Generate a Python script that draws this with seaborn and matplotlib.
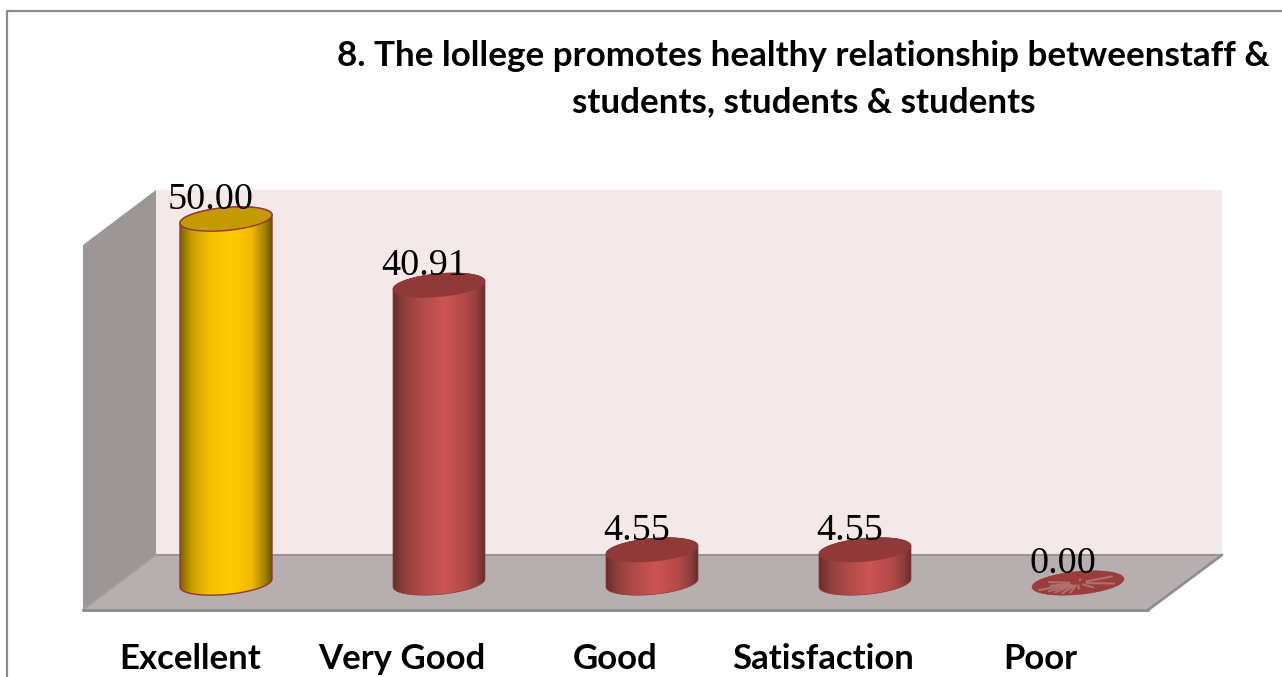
import numpy as np
import seaborn as sns
import matplotlib
matplotlib.use('Agg')
import matplotlib.pyplot as plt
from matplotlib.colors import LinearSegmentedColormap
from matplotlib.patches import Polygon
from matplotlib.transforms import Affine2D

categories = ['Excellent', 'Very Good', 'Good', 'Satisfaction', 'Poor']
values = [50.00, 40.91, 4.55, 4.55, 0.00]
title_text = '8. The lollege promotes healthy relationship betweenstaff &\nstudents, students & students'

W, H = 1282, 677
PX_X = 213.0   # pixels per category
PX_Y = 7.28    # pixels per value unit
LEFT, RIGHT, TOP, BOTTOM = 83, 1148, 190, 610
X0, Y0 = 226, 583  # pixel of the first bar at value 0
label_px = [190, 402, 615, 823, 1040]

sns.set_theme(style='white')
plt.rcParams['font.family'] = ['Lato', 'DejaVu Sans']

fig = plt.figure(figsize=(W / 100, H / 100), dpi=100, facecolor='white')
ax = fig.add_axes([LEFT / W, 1 - BOTTOM / H, (RIGHT - LEFT) / W, (BOTTOM - TOP) / H])
ax.patch.set_alpha(0)

yellow = LinearSegmentedColormap.from_list('y', [(0, '#7d6300'), (0.12, '#c79c00'), (0.3, '#f2bd00'), (0.55, '#ffcc00'),
                                                 (0.78, '#f0ba00'), (0.92, '#a98400'), (1, '#6f5800')])
red = LinearSegmentedColormap.from_list('r', [(0, '#682e2c'), (0.12, '#8f3f3d'), (0.3, '#b04a48'), (0.55, '#cc5552'),
                                              (0.78, '#b34b49'), (0.92, '#8f3f3d'), (1, '#682e2c')])

sns.barplot(x=list(range(len(values))), y=values, native_scale=True, width=92 / PX_X, color='#c0504d', linewidth=0, ax=ax, zorder=3)

px = Affine2D().scale(1, -1).translate(0, H)


def wall(pts, color, edge='none', lw=0):
    ax.add_patch(Polygon(pts, closed=True, fc=color, ec=edge, lw=lw, transform=px, clip_on=False, zorder=0))


wall([(156, 190), (1222, 190), (1222, 555), (156, 555)], '#f4e8e8')
wall([(83, 245), (156, 190), (156, 555), (83, 610)], '#9c9696')
wall([(83, 610), (1148, 610), (1222, 555), (156, 555)], '#b7afaf')
ax.plot([156, 1222], [555, 555], color='#999393', lw=1.5, transform=px, clip_on=False, zorder=1)
ax.plot([83, 156], [610, 555], color='#a3a0a0', lw=1.2, transform=px, clip_on=False, zorder=1)
ax.plot([1148, 1222], [610, 555], color='#8f8f8f', lw=2, transform=px, clip_on=False, zorder=1)
ax.plot([83, 1148], [610, 610], color='#8f8f8f', lw=2.2, transform=px, clip_on=False, zorder=1)

# grey frame, only top and left are in the crop
ax.plot([7, 7, W], [H, 11, 11], color='#8c8c8c', lw=1.6, transform=px, clip_on=False, zorder=1)

t = np.linspace(0, 2 * np.pi, 90)


def rim(cx, val, tt):
    # slanted ellipse of a bar end, half axes given in pixels
    dx = 46 * np.cos(tt) / PX_X
    dy = (4 * np.cos(tt) + 11.5 * np.sin(tt)) / PX_Y
    return cx + dx, val + dy


for i, (bar, val) in enumerate(zip(ax.patches, values)):
    cx = bar.get_x() + bar.get_width() / 2
    cmap = yellow if i == 0 else red
    top_col = '#c49a00' if i == 0 else '#8f3a38'
    edge = '#953735'
    if val > 0:
        bx, by = rim(cx, 0, np.linspace(0, -np.pi, 50))
        tx, ty = rim(cx, val, np.linspace(np.pi, 0, 50))
        body = Polygon(np.column_stack([np.r_[bx, tx], np.r_[by, ty]]), closed=True, fc='none', ec=edge,
                       lw=1 if i == 0 else 0.5, transform=ax.transData, zorder=5)
        ax.add_patch(body)
        im = ax.imshow(np.linspace(0, 1, 200)[None, :], cmap=cmap, aspect='auto', zorder=4,
                       extent=[bar.get_x(), bar.get_x() + bar.get_width(), -3, val + 3])
        im.set_clip_path(body)
        bar.set_clip_path(body)
    ex, ey = rim(cx, val, t)
    ax.fill(ex, ey, fc=top_col if val > 0 else '#9a3d3b', ec=edge, lw=1 if i == 0 else 0.4, zorder=6)
    if val == 0:
        # flat bar, streaks of floor show through it
        for a, f in zip([3.5, 3.8, 4.05, 4.3, 4.5, 4.75, 3.2, 5.3, 5.9, 0.4, 1.4, 2.7],
                        [.9, .8, .8, .85, .8, .5, .6, .6, .85, .8, .3, .7]):
            sx, sy = rim(cx, val, np.array([a, a]))
            ax.plot([cx + (sx[0] - cx) * 0.2, cx + (sx[0] - cx) * f], [val + (sy[0] - val) * 0.2, val + (sy[0] - val) * f],
                    color='#b0706e', lw=1.5, zorder=7, solid_capstyle='round')
    ax.annotate(f'{val:.2f}', (cx, val), xytext=(-15 * 0.72, 10 * 0.72), textcoords='offset points', ha='center',
                va='baseline', family=['Liberation Serif'], fontsize=27.5, color='black', zorder=8)

ax.set_xlim(-(X0 - LEFT) / PX_X, (RIGHT - X0) / PX_X)
ax.set_ylim((Y0 - BOTTOM) / PX_Y, (Y0 - TOP) / PX_Y)
ax.set_xticks([(p - X0) / PX_X for p in label_px])
ax.set_xticklabels(categories, fontweight='bold', fontsize=25, color='black')
ax.tick_params(axis='x', length=0, pad=24)
ax.set_yticks([])
ax.set_xlabel('')
ax.set_ylabel('')
sns.despine(ax=ax, left=True, bottom=True)

fig.text(803.5 / W, 1 - 56 / H, title_text.split('\n')[0], ha='center', va='center', fontweight='bold', fontsize=25.2, color='black')
fig.text(803.5 / W, 1 - 102 / H, title_text.split('\n')[1], ha='center', va='center', fontweight='bold', fontsize=25.2, color='black')

fig.savefig('out.png', dpi=100)
